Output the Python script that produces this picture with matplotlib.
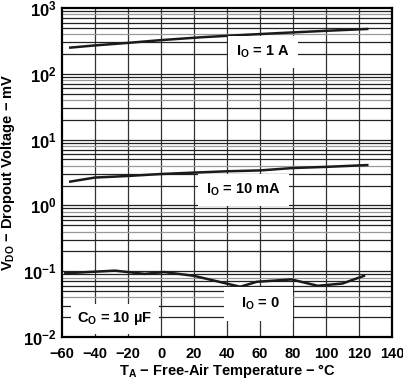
import matplotlib
matplotlib.use("Agg")
import matplotlib.pyplot as plt
import numpy as np

plt.rcParams['font.family'] = ['Liberation Sans', 'DejaVu Sans']
plt.rcParams['mathtext.default'] = 'regular'

temp_1a = [-55, -40, -20, 0, 25, 50, 75, 100, 125]
vdo_1a = [250, 270, 295, 325, 360, 390, 420, 450, 480]

temp_10ma = [-55, -40, -20, 0, 20, 40, 60, 80, 100, 125]
vdo_10ma = [2.3, 2.65, 2.8, 3.0, 3.15, 3.3, 3.4, 3.7, 3.85, 4.1]

temp_0 = [-58, -28, -10, 2, 20, 48, 58, 79, 95, 110, 123]
vdo_0 = [0.093, 0.102, 0.091, 0.097, 0.085, 0.058, 0.069, 0.075, 0.060, 0.065, 0.085]

xticks = [-60, -40, -20, 0, 20, 40, 60, 80, 100, 120, 140]
yticks = [1e-2, 1e-1, 1e0, 1e1, 1e2, 1e3]
ytick_labels = ['$10^{\u22122}$', '$10^{\u22121}$', '$10^{0}$', '$10^{1}$', '$10^{2}$', '$10^{3}$']

fig = plt.figure(figsize=(4.03, 3.80), dpi=100)
ax = fig.add_axes([62/403, 1-337/380, 330/403, 329/380])
ax.set_yscale('log')
ax.set_xlim(-60, 140)
ax.set_ylim(1e-2, 1e3)

# grid
for xv in xticks[1:-1]:
    ax.axvline(xv, color='#333333', lw=0.9, zorder=1)
for dec in range(-2, 3):
    base = 10.0 ** dec
    for m in range(1, 10):
        v = base * m
        col = '#999999' if m in (4, 8) else '#222222'
        ax.axhline(v, color=col, lw=0.9, zorder=1)

ax.plot(temp_1a, vdo_1a, color='#1a1a1a', lw=1.8, zorder=3)
ax.plot(temp_10ma, vdo_10ma, color='#1a1a1a', lw=1.8, zorder=3)
ax.plot(temp_0, vdo_0, color='#1a1a1a', lw=1.8, zorder=3)

fs = 10.5
ax.text(62, 214, '$I_O$ = 1 A', ha='center', va='center', fontsize=fs, fontweight='bold',
        bbox=dict(facecolor='white', edgecolor='none', boxstyle='square,pad=0.55'), zorder=4)
ax.text(50, 1.71, '$I_O$ = 10 mA', ha='center', va='center', fontsize=fs, fontweight='bold',
        bbox=dict(facecolor='white', edgecolor='none', boxstyle='square,pad=0.55'), zorder=4)
ax.text(59, 0.0318, '  $I_O$ = 0  ', ha='center', va='center', fontsize=fs, fontweight='bold',
        bbox=dict(facecolor='white', edgecolor='none', boxstyle='square,pad=0.6'), zorder=4)
ax.text(-28, 0.0188, '$C_O$ = 10 \u00b5F', ha='center', va='center', fontsize=fs, fontweight='bold',
        bbox=dict(facecolor='white', edgecolor='none', boxstyle='square,pad=0.45'), zorder=4)

ax.set_xticks(xticks)
ax.set_xticklabels([str(t).replace('-', '\u2212') for t in xticks], fontsize=10.5, fontweight='bold')
ax.set_yticks(yticks)
ax.set_yticklabels(ytick_labels, fontsize=12, fontweight='bold')
ax.yaxis.set_minor_locator(matplotlib.ticker.NullLocator())
ax.tick_params(axis='x', length=0, pad=7)
ax.tick_params(axis='y', length=0, pad=4)

ax.set_xlabel('$T_A$ \u2212 Free-Air Temperature \u2212 \u00b0C', fontsize=10.5, fontweight='bold', labelpad=1)
ax.set_ylabel('$V_{DO}$ \u2212 Dropout Voltage \u2212 mV', fontsize=10.5, fontweight='bold', labelpad=4)

for s in ax.spines.values():
    s.set_linewidth(1.6)
    s.set_zorder(5)

fig.savefig('out.png', dpi=100)
